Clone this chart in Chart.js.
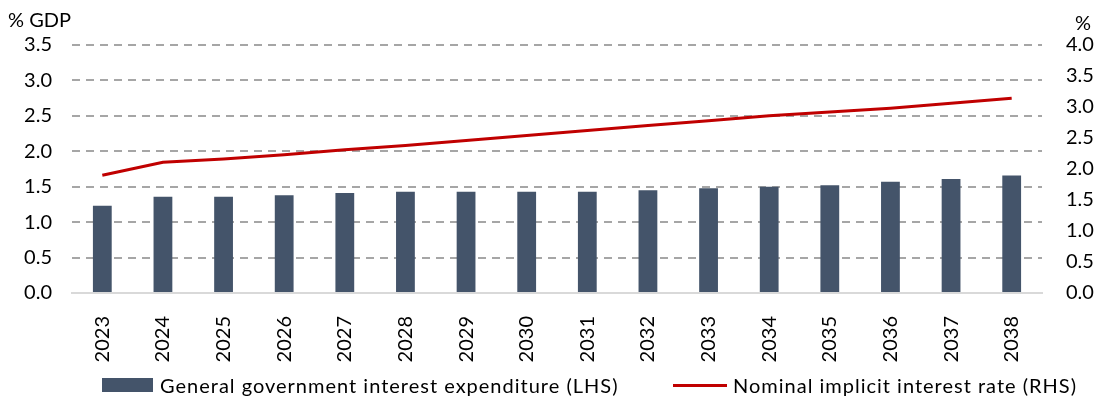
<!DOCTYPE html>
<html>
<head>
<meta charset="utf-8">
<script src="https://cdn.jsdelivr.net/npm/chart.js@4"></script>
<style>
  html, body { margin: 0; padding: 0; background: #fff; }
  #wrap { position: relative; width: 1102px; height: 405px; font-family: Lato, "Open Sans", sans-serif; }
  #c { position: absolute; left: 0; top: 0; }
  .lg { position: absolute; top: 373px; height: 24px; display: flex; align-items: center; font-size: 20px; letter-spacing: 1px; color: #000; white-space: nowrap; }
  .sw-bar { width: 51px; height: 14px; background: #44546a; margin-right: 7px; }
  .sw-line { width: 54px; height: 3px; background: #c00000; margin-right: 6px; }
</style>
</head>
<body>
<div id="wrap">
  <canvas id="c" width="1102" height="405"></canvas>
  <div class="lg" style="left:102px"><div class="sw-bar"></div><span id="l1"></span></div>
  <div class="lg" style="left:673px"><div class="sw-line"></div><span id="l2"></span></div>
</div>
<script>
const categories = ["2023","2024","2025","2026","2027","2028","2029","2030","2031","2032","2033","2034","2035","2036","2037","2038"];
const interestExpenditure = [1.23,1.36,1.36,1.38,1.41,1.43,1.43,1.43,1.43,1.45,1.48,1.50,1.52,1.57,1.61,1.66];
const implicitRate = [1.90,2.11,2.16,2.23,2.31,2.38,2.46,2.54,2.62,2.70,2.78,2.86,2.92,2.98,3.06,3.14];
const leftTicks = [0,0.5,1,1.5,2,2.5,3,3.5];
const rightTicks = [0,0.5,1,1.5,2,2.5,3,3.5,4];
const seriesNames = ["General government interest expenditure (LHS)", "Nominal implicit interest rate (RHS)"];
const leftTitle = "% GDP";
const rightTitle = "%";

document.getElementById('l1').textContent = seriesNames[0];
document.getElementById('l2').textContent = seriesNames[1];

const FONT = "Lato";
const titles = {
  id: 'titles',
  afterDraw(chart) {
    const ctx = chart.ctx;
    ctx.save();
    ctx.fillStyle = '#000';
    ctx.font = '20px ' + FONT;
    ctx.textBaseline = 'alphabetic';
    ctx.textAlign = 'left';
    ctx.fillText(leftTitle, 8, 27);
    ctx.fillText(rightTitle, 1075, 30);
    ctx.restore();
  }
};

new Chart(document.getElementById('c'), {
  data: {
    labels: categories,
    datasets: [
      { type: 'line', label: seriesNames[1], data: implicitRate, yAxisID: 'y1', borderColor: '#c00000', borderWidth: 3, pointRadius: 0, tension: 0, order: 0 },
      { type: 'bar', label: seriesNames[0], data: interestExpenditure, yAxisID: 'y', backgroundColor: '#44546a', borderWidth: 0, barPercentage: 0.31, categoryPercentage: 1, order: 1 }
    ]
  },
  options: {
    responsive: false,
    animation: false,
    layout: { padding: { top: 45, left: 0, right: 0, bottom: 40 } },
    plugins: { legend: { display: false }, tooltip: { enabled: false } },
    scales: {
      x: {
        offset: true,
        grid: { display: false },
        border: { display: true, color: '#d9d9d9', width: 2 },
        ticks: { color: '#000', font: { family: FONT, size: 20 }, minRotation: 90, maxRotation: 90, padding: 15 },
        afterFit(s) { s.height = 72; }
      },
      y: {
        position: 'left', min: 0, max: 3.5,
        afterBuildTicks(s) { s.ticks = leftTicks.map(v => ({ value: v })); },
        grid: { color: ctx => ctx.tick && ctx.tick.value === 0 ? 'rgba(0,0,0,0)' : '#a6a6a6', lineWidth: 2, drawTicks: false },
        border: { display: false, dash: [8, 6] },
        ticks: { color: '#000', font: { family: FONT, size: 20 }, padding: 20, callback: v => Number(v).toFixed(1) },
        afterFit(s) { s.width = 72; }
      },
      y1: {
        position: 'right', min: 0, max: 4,
        afterBuildTicks(s) { s.ticks = rightTicks.map(v => ({ value: v })); },
        grid: { display: false, drawTicks: false },
        border: { display: false },
        ticks: { color: '#000', font: { family: FONT, size: 20 }, padding: 24, callback: v => Number(v).toFixed(1) },
        afterFit(s) { s.width = 60; }
      }
    }
  },
  plugins: [titles]
});
</script>
</body>
</html>
